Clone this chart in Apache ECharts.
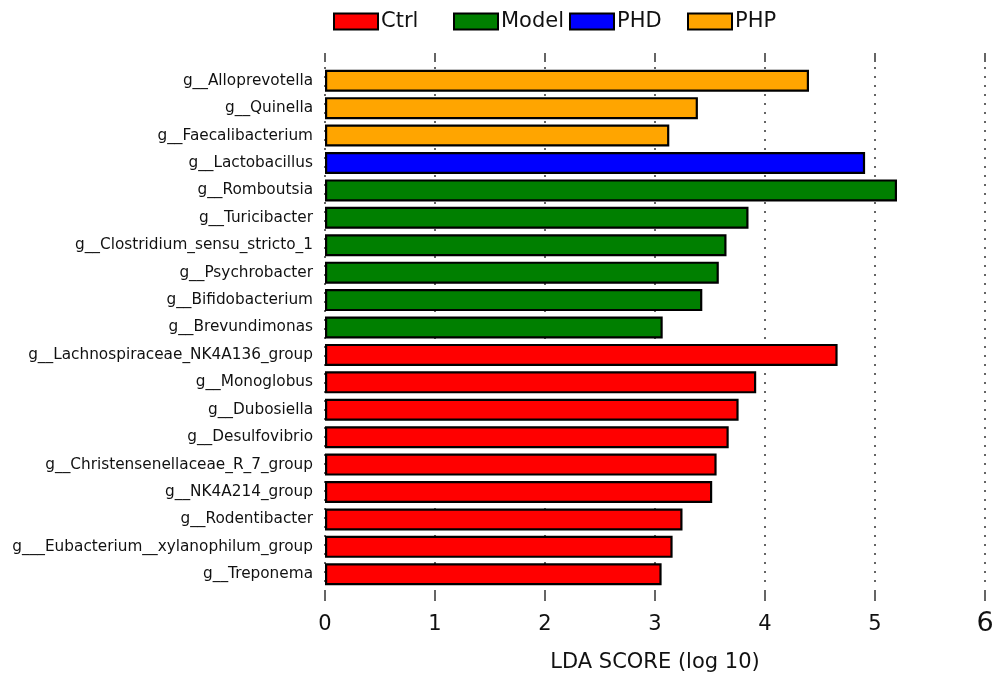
<!DOCTYPE html>
<html>
<head>
<meta charset="utf-8">
<style>
  html, body { margin: 0; padding: 0; background: #fff; }
  #chart { width: 999px; height: 675px; }
</style>
<script src="https://cdn.jsdelivr.net/npm/echarts@6/dist/echarts.min.js"></script>
</head>
<body>
<div id="chart"></div>
<script>
// Genera, top to bottom
const categories = [
  'g__Alloprevotella', 'g__Quinella', 'g__Faecalibacterium',
  'g__Lactobacillus',
  'g__Romboutsia', 'g__Turicibacter', 'g__Clostridium_sensu_stricto_1',
  'g__Psychrobacter', 'g__Bifidobacterium', 'g__Brevundimonas',
  'g__Lachnospiraceae_NK4A136_group', 'g__Monoglobus', 'g__Dubosiella',
  'g__Desulfovibrio', 'g__Christensenellaceae_R_7_group', 'g__NK4A214_group',
  'g__Rodentibacter', 'g___Eubacterium__xylanophilum_group', 'g__Treponema'
];
// LDA scores (log 10)
const ldaScores = [
  4.40, 3.39, 3.13,
  4.91,
  5.20, 3.85, 3.65, 3.58, 3.43, 3.07,
  4.66, 3.92, 3.76, 3.67, 3.56, 3.52, 3.25, 3.16, 3.06
];
// Enriched group for each genus
const enrichedIn = [
  'PHP', 'PHP', 'PHP',
  'PHD',
  'Model', 'Model', 'Model', 'Model', 'Model', 'Model',
  'Ctrl', 'Ctrl', 'Ctrl', 'Ctrl', 'Ctrl', 'Ctrl', 'Ctrl', 'Ctrl', 'Ctrl'
];
const groups = ['Ctrl', 'Model', 'PHD', 'PHP'];
const groupColors = ['#ff0000', '#007f00', '#0000ff', '#ffa500'];
const xTicks = [0, 1, 2, 3, 4, 5, 6];

const FONT = 'DejaVu Sans';

const series = groups.map((g, gi) => ({
  name: g,
  type: 'bar',
  stack: 'lda',
  barWidth: 22,
  itemStyle: { color: groupColors[gi], borderColor: '#000', borderWidth: 2.2 },
  emphasis: { disabled: true },
  data: ldaScores.map((v, i) => (enrichedIn[i] === g ? v : '-'))
}));

const legendLeft = [333, 453, 569, 687];
const legends = groups.map((g, gi) => ({
  data: [g],
  left: legendLeft[gi],
  top: 11,
  padding: 0,
  icon: 'rect',
  itemWidth: 44,
  itemHeight: 16,
  itemGap: 0,
  selectedMode: false,
  textStyle: { fontFamily: FONT, fontSize: 21, color: '#111', padding: [0, 0, 0, -2] }
}));

const chart = echarts.init(document.getElementById('chart'), null, { renderer: 'canvas' });
chart.setOption({
  animation: false,
  backgroundColor: '#fff',
  legend: legends,
  grid: { left: 325, right: 14, top: 67, bottom: 87, containLabel: false, outerBoundsMode: 'none' },
  xAxis: [
    {
      type: 'value', position: 'bottom', min: xTicks[0], max: xTicks[xTicks.length - 1], interval: 1,
      offset: 2,
      name: 'LDA SCORE (log 10)', nameLocation: 'middle', nameGap: 62,
      nameTextStyle: { fontFamily: FONT, fontSize: 21, color: '#111' },
      axisLine: { show: false },
      axisTick: { show: true, length: 11, lineStyle: { color: '#333', width: 1.5 } },
      axisLabel: {
        fontFamily: FONT, fontSize: 21, color: '#111', margin: 24,
        formatter: v => (v === xTicks[xTicks.length - 1] ? '{big|' + v + '}' : String(v)),
        rich: { big: { fontFamily: FONT, fontSize: 27, lineHeight: 19, color: '#111' } }
      },
      splitLine: { show: true, lineStyle: { color: '#333', width: 1.5, type: [2, 7] } }
    },
    {
      type: 'value', position: 'top', min: xTicks[0], max: xTicks[xTicks.length - 1], interval: 1,
      offset: 5,
      axisLine: { show: false },
      axisTick: { show: true, length: 9, lineStyle: { color: '#333', width: 1.5 } },
      axisLabel: { show: false },
      splitLine: { show: false }
    }
  ],
  yAxis: {
    type: 'category', inverse: true, data: categories,
    axisLine: { show: false }, axisTick: { show: false },
    axisLabel: { fontFamily: FONT, fontSize: 15.3, color: '#111', margin: 12 },
    splitLine: { show: false }
  },
  series: series
});
</script>
</body>
</html>
